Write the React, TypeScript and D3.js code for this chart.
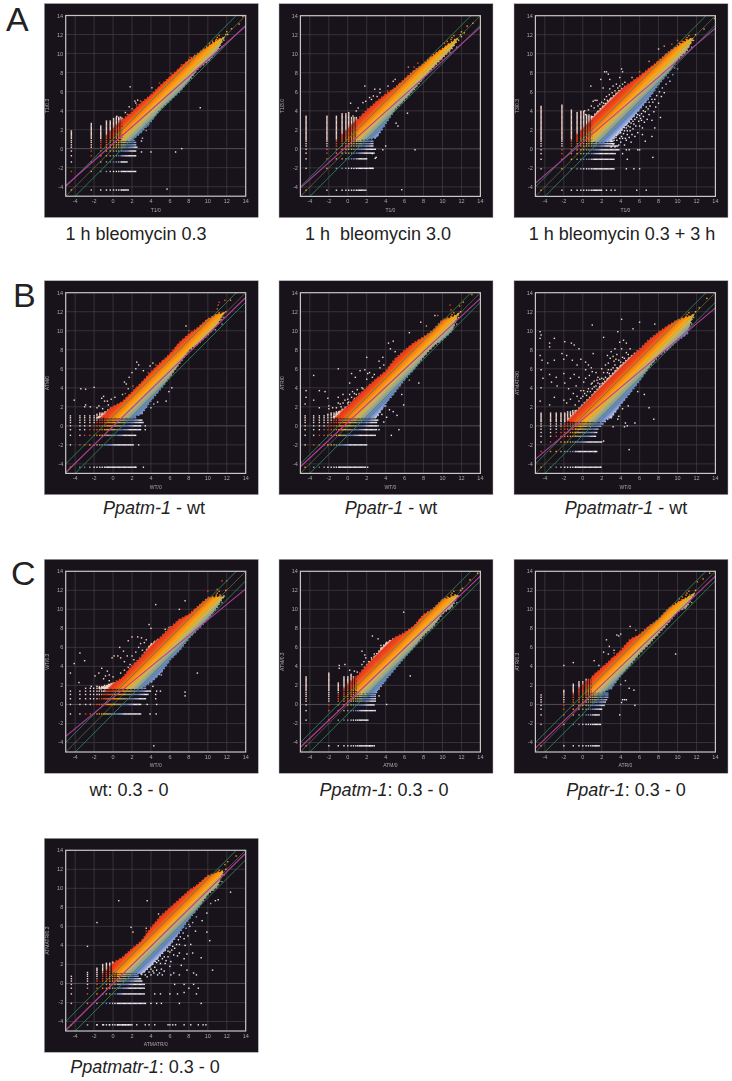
import React from 'react';
import * as d3 from 'd3';

// ---- shared values
const ticks = [-4, -2, 0, 2, 4, 6, 8, 10, 12, 14];
const fineLevels = [-2.3,-2.17,-2.04,-1.91,-1.78,-1.65,-1.52,-1.39,-1.26,-1.13,-1,-0.87,-0.74,-0.61,-0.48,-0.35,-0.22,-0.09,0.04,0.17,0.3,0.43,0.56,0.69,0.82,0.95,1.08,1.21,1.34,1.47,1.6,1.73,1.86,1.99,2.12,2.25,2.38,2.51,2.64,2.77,2.9,3.03,3.16,3.29,3.42,3.55,3.68,3.81,3.94,4.07,4.2,4.33,4.46,4.59,4.72,4.85];
const greenOffsets = [1, 0, -1];
const diffStops = [-2.25,-1.9,-1.35,-0.9,-0.55,-0.25,0,0.25,0.6,1.0,1.5,2.05,2.35];
const diffColors = ['#ecebf5','#9fb0dc','#5f7fbe','#8a98a0','#a5a882','#c8b25c','#eab52c','#f9a518','#ff8c10','#fb6c12','#f0461a','#dd3c1e','#f6d5cc'];
const xsR = [1,2,3,4,5,6,7,8,9,10,11,11.6];
const xsL = [-1.5,-1,0,1,2,3,4,5,6,7,8,9,10,11,11.6];
const xsM = [0,1,2,3,4,5,6,7,8,9,10,11,11.6];
const tipPts = [[10.2,11.1],[10.5,11.3],[10.7,10.6],[10.9,11.5],[11.1,10.9],[11.2,11.9],[11.4,11.2],[11.5,10.7],[11.7,11.4],[11.9,12],[10.4,10],[10.8,10.1],[11,11.7],[10.6,11],[11.3,11.5]];

// ---- cloud envelopes
const a1Hi = [3.0,3.8,4.8,5.6,6.6,7.5,8.4,9.3,10,10.7,11.4,11.6];
const a1Lo = [0.9,0.9,1.8,2.9,4.2,5.1,6,7.2,8.5,9.2,10.3,11.6];
const a2Hi = [3,4,4.9,5.7,6.4,7.3,8.2,8.9,9.8,10.5,11.2,11.6];
const a2Lo = [0.9,1,1.2,2.7,4.2,5.2,6.3,7.5,8.6,9.6,10.6,11.6];
const a3Hi = [3.3,4.3,5.3,6.2,6.9,7.6,8.4,9.2,10.1,10.8,11.4,11.6];
const a3Lo = [0.8,0.7,0.9,1.9,3,4.2,5.4,6.8,8,9.4,10.4,11.6];
const b1Hi = [0.9,1.3,2,2.5,3.5,4.5,5.6,6.6,7.5,8.7,9.6,10.3,11.2,11.7,11.8];
const b1Lo = [0.9,0.9,0.9,0.9,0.9,1.3,2.7,3.9,5.2,6.6,8,8.7,9.6,10.7,11.8];
const b2Hi = [0.9,1.4,2.1,3,4,4.9,5.7,7,7.9,8.7,9.3,10,11.1,11.4,11.7];
const b2Lo = [0.9,0.9,0.9,0.9,0.9,0.9,2.4,3.6,4.9,6,7.3,8.4,9.1,10,11.7];
const b3Hi = [0.7,1.2,2.2,3.2,4.3,5.3,6.3,7.2,8,9,9.8,10.5,11.1,11.4,11.6];
const b3Lo = [0.5,0.5,0.5,0.5,0.45,0.9,2.3,3.5,4.8,6.2,7.4,8.1,9,9.7,11.6];
const c1Hi = [1.7,1.8,2.2,2.75,4,5,6.3,7,8,8.9,9.4,10.3,11.2,11.3,11.3];
const c1Lo = [1.7,1.7,1.7,1.7,1.7,1.7,2.4,3.3,4.7,5.7,7,8,9,10.3,11.3];
const c2Hi = [2.9,4.1,5.2,6.4,7,7.5,8.2,9.4,10,11,11.3,11.5];
const c2Lo = [1.2,1.2,1.3,2.6,3.8,5,6.1,7.3,8.2,9.6,10.3,11.5];
const c3Hi = [2.9,3.8,4.7,5.6,6.8,7.3,8.2,8.9,10,10.7,11.2,11.5];
const c3Lo = [1.3,1.3,1.7,3.1,4.2,5.4,6.4,7.5,8.6,9.8,10.3,11.5];
const d1Hi = [2.1,2.7,3.6,4.4,5.8,7,7.9,8.8,9.7,10.4,11.3,11.6,11.8];
const d1Lo = [1.2,1.2,1.2,1,1.9,3,4.1,5.4,6.8,8,9.4,10.2,11.8];

// ---- magenta regression lines [y at x=-5, y at x=14]
const a1Mag = [-3.9, 12.9];
const a2Mag = [-4.1, 12.8];
const a3Mag = [-3.6, 12.7];
const b1Mag = [-4.9, 13.5];
const b2Mag = [-4.3, 13.4];
const b3Mag = [-3.5, 12.4];
const c1Mag = [-3.35, 12.15];
const c2Mag = [-4.5, 13.5];
const c3Mag = [-4.6, 13.5];
const d1Mag = [-4.9, 13.7];

// ---- discrete lattice columns and rows
const a1ColX = [-4.4,-2.3,-1.3,-0.7,-0.3,0.05,0.35,0.6,0.85];
const a1ColTop = [1.9,2.7,2.5,2.9,3,3.2,3.3,3.4,3.2];
const a1RowY = [-4.35,-2.4,-1.4,-0.75,-0.25,0.15,0.4,0.65,0.85];
const a1RowR = [1.6,2.5,1.5,2.4,2.5,2.6,2.5,2.4,2.3];
const a2ColX = [-4.4,-2.2,-1.2,-0.6,-0.2,0.1,0.4,0.65,0.9];
const a2ColTop = [3.5,3.5,3.5,3.7,3.7,3.9,3.4,3.4,3.3];
const a2RowY = [-4.35,-2.05,-1.05,-0.45,-0.05,0.3,0.55,0.8];
const a2RowR = [1.8,2.7,2.1,2.8,2.9,2.7,2.7,2.7];
const a3ColX = [-4.4,-2.2,-1.2,-0.6,-0.2,0.1,0.4,0.65,0.9];
const a3ColTop = [4.5,4.7,4.1,3.9,4,4,3.6,3.6,3.5];
const a3RowY = [-4.35,-2.1,-1.1,-0.5,-0.1,0.3,0.55,0.8];
const a3RowR = [2,3.3,3.4,3.5,3.9,3.7,3.3,3.2];
const b1ColX = [-4.5,-3.5,-3,-2.45,-2,-1.7,-1.4,-1.15,-0.9];
const b1ColTop = [1.05,1.05,1.05,1.05,1.2,1.3,1.4,1.4,1.4];
const b1RowY = [-4.35,-2,-1,-0.4,0,0.35,0.6,0.85,1.05];
const b1RowR = [2.4,2.2,2.5,3,3,3.2,3.1,2.5,2.3];
const b2ColX = [-4.5,-3.6,-3,-2.5,-2.1,-1.75,-1.45,-1.2,-0.95];
const b2ColTop = [1.05,1.05,1.05,1.05,1.3,1.4,1.4,1.5,1.5];
const b2RowY = [-4.35,-2,-1,-0.4,0,0.35,0.6,0.85,1.05];
const b2RowR = [1.9,2,2.9,3.1,3.1,3.1,3.2,2.8,2.6];
const b3ColX = [-4.4,-3.4,-2.8,-2.3,-1.9,-1.6,-1.3,-1.05,-0.8];
const b3ColTop = [1.4,1.4,1.4,1.4,1.4,1.5,1.5,1.6,1.6];
const b3RowY = [-4.35,-2.7,-1.7,-1.1,-0.7,-0.35,-0.05,0.2,0.45];
const b3RowR = [1.9,1.5,2,1.4,1.5,1.7,1.9,2.2,2.4];
const c1ColX = [-4.5,-3.5,-2.9,-2.4,-2.05,-1.7,-1.45,-1.2,-1];
const c1ColTop = [1.4,1.4,1.85,1.8,1.8,1.8,1.9,1.9,1.9];
const c1RowY = [-1,0,0.6,1.05,1.4,1.7];
const c1RowR = [2.9,3,3.5,3.7,4,3.5];
const c2ColX = [-4.4,-2,-1,-0.4,0,0.35,0.6,0.85,1.05];
const c2ColTop = [3,3.4,2.3,3,3,3.2,3,3,3];
const c2RowY = [-4.35,-1.65,-0.65,-0.05,0.35,0.6,0.85,1.05,1.25];
const c2RowR = [2.7,2.2,3,2.8,3,3,2.9,2.9,2.9];
const c3ColX = [-4.4,-2,-1,-0.4,0,0.35,0.6,0.85,1.05];
const c3ColTop = [1.1,1.5,2.2,2.5,2.5,2.7,2.7,2.7,2.7];
const c3RowY = [-4.35,-2.1,-1.1,-0.5,-0.1,0.25,0.5,0.75,1,1.2];
const c3RowR = [1.8,1.9,1.8,2.1,2.3,2.5,2.6,2.7,2.7,2.7];
const d1ColX = [-4.4,-2.7,-1.7,-1.1,-0.7,-0.35,-0.05,0.2,0.45];
const d1ColTop = [0.9,1.2,1.6,2.1,2.2,2.2,2.3,2.2,2.2];
const d1RowY = [-4.35,-2.1,-1.1,-0.5,-0.1,0.25,0.5,0.75,0.95,1.15];
const d1RowR = [2,3.5,3.4,3.4,3.4,3.1,2.9,2.7,2.6,2.5];

// ---- loose points [x, y]
const a1Pts = [[1.8,6.5],[4.1,6.4],[9.2,4.3],[7.25,0],[6.6,-0.35],[5.7,-4.25],[4,-0.35],[3,-0.35],[3,0.8],[3.1,1.1],[3.5,1.9],[2.3,5],[2.6,5.1],[2.9,5],[2.4,4.8],[1.7,4.4],[1.3,3.8],[0.8,3.3],[1,3.2],[0.6,3.1],[0.4,3.4],[2,4.2],[3,4.6],[2.5,4.6],[1.5,3.6],[12,12.3],[12.5,12.6],[13.3,13.1],[13.7,13.9],[12.1,12],[3.7,2.4],[4,3],[4.9,6.9],[6.1,7.9],[7.2,8.8],[8.1,9.6]];
const a2Pts = [[1.8,6.6],[0.3,4.8],[7.1,-0.1],[5.7,-4.3],[4,0.3],[3.7,-0.1],[6.3,3.75],[5.3,2.4],[5.1,2.7],[2.85,6.27],[4.25,6.6],[3.4,6.27],[2.3,5.4],[2.5,5.2],[2.7,5.56],[1.6,4.86],[1.1,4.3],[0.9,3.98],[0.55,3.45],[5,7.3],[4.8,7.1],[4.2,6.1],[6.4,8.6],[7.4,9],[7,8.6],[3.4,5.9],[1.9,5],[3.1,5.5],[12,12.3],[12.6,12.9],[13.2,13.2],[12,11.8],[12.3,12.2],[2.6,-0.5],[2.9,-1],[2.4,-2.05],[2.65,-2.05],[3,-0.9],[1.9,-4.35]];
const a3Pts = [[0.2,4],[0.3,3.6],[0.6,4.1],[0.9,4.5],[1.1,5],[1.3,5.1],[0.85,6.6],[2.5,8.1],[2.7,7.85],[2.3,8.1],[4.1,8.4],[4.2,8.1],[3.9,7.5],[2.85,7.3],[1.9,7.3],[2.15,6.4],[3.55,6.8],[4.45,7],[2.85,6.3],[3.2,6.6],[3.7,6.4],[2.5,5.5],[2.3,5.2],[2,4.9],[1.5,5.1],[1.2,4.3],[1.6,4.5],[2.8,5.7],[3.1,5.9],[3.4,6.1],[3.9,6.6],[4.2,6.8],[1.8,4.7],[2.2,4.8],[2.6,5.1],[5.2,7.5],[6,8.1],[7,9.2],[8,10.5],[8.6,10.8],[9.4,11],[10,11.4],[3,0.2],[3.2,0.5],[3.4,0.2],[3.6,0.9],[3.8,0.4],[4,0.7],[4.2,1.1],[4.4,0.4],[4.1,1.3],[4.5,1.1],[4.7,1.5],[4.6,0.9],[4.9,1.2],[5,1.9],[5.2,1.5],[5.3,2.1],[5.1,0.7],[5.5,1.3],[5.6,2.4],[5.4,2.6],[5.8,1.7],[5.9,2.9],[6,2.4],[6.1,3.2],[6.3,2.2],[6.4,3.4],[6.2,3.7],[6.5,2.8],[6.6,3.9],[6.8,3.1],[6.9,4.2],[7,3.6],[7.1,4.5],[7.3,3],[7.4,4.9],[7.5,3.9],[7.6,5.2],[7.7,4.4],[7.8,5.6],[8,4.8],[8.1,6],[8.3,5.5],[8.4,6.4],[8.6,5.9],[8.8,6.8],[9,7.5],[9.2,7.1],[9.5,7.8],[9.7,8.5],[10,8.4],[3.3,0.9],[3.5,1.2],[3.7,1.5],[3.9,1.1],[4,1.7],[4.3,1.6],[4.4,1.9],[4.6,2.2],[4.8,2.4],[4.7,1.9],[5,2.3],[5.1,2.7],[5.3,2.9],[5.5,3.1],[5.7,3.3],[5.8,3.6],[6,3.5],[6.2,3],[6.4,4],[6.7,4.4],[7,4.9],[7.3,5.2],[4.6,-0.1],[4.9,-0.1],[5.8,-0.1],[6,-0.1],[7.4,-0.9],[4.2,-0.5],[4.7,-1.1],[5.4,-2.1],[4.6,-2.1],[6,-2.1],[5.7,-4.35],[6.7,-4.35],[3.4,-4.35],[3,-4.35],[2.5,-4.35],[7.3,1.3],[6.6,0.8],[8.2,3.3],[6.3,1.5],[7.6,2.2],[12.8,12.6],[13.9,13.7]];
const b1Pts = [[-4.1,2.7],[-3.4,3.9],[-2.9,3.85],[-2,4.05],[-1,3.1],[-1.2,2.9],[-0.9,2.6],[-0.5,2.2],[-1.7,1.9],[-2.4,2],[-3,2],[-2.9,2.2],[-1.5,2.1],[-1.1,1.8],[-0.6,2.6],[-0.2,2.8],[0.2,3],[1,3.3],[1.3,3.4],[1.6,3.9],[1.4,4.4],[1.2,4.6],[1.7,5.1],[2,5.6],[2.4,6],[2.5,6.7],[2.7,6.4],[3.2,5.8],[3.9,6.3],[4.2,6.6],[3.7,5.6],[4.5,6.4],[2.1,4.2],[7.7,10.5],[8,10],[3,1.9],[3.4,2.2],[4,1.9],[4.3,2.3],[4.7,2.5],[5.6,2.6],[5.9,3.6],[6.2,4],[3.2,-4.35],[2.4,-4.35],[2.7,-2],[3.4,-0.4],[3.4,0],[11.2,13],[11.1,12.7],[11,12.3],[12.4,13.2],[13,14],[11.8,13.2]];
const b2Pts = [[-4.4,3.7],[-4.4,3],[-4.5,2.3],[-3.6,5.3],[-3.6,2.7],[-3,3.7],[-2.4,3.6],[-2,2.1],[-3,1.9],[-2,1.8],[-1.6,1.9],[-2.1,2.9],[-1,2.4],[-1.2,1.9],[-0.7,2],[-0.5,3.3],[-0.5,2.4],[-1,3],[0,2.8],[0,2.4],[0.2,3.3],[0.5,3.6],[0.7,2.9],[1,3.8],[1.2,3.4],[0.7,3.4],[1.5,4],[0.2,4.5],[0.4,5.5],[-1,6],[0.8,5.1],[1.3,5.8],[1.8,5.9],[2.1,5.5],[2.3,5.6],[2,4.9],[2.6,5.1],[2,7.2],[3.3,6.8],[3.7,7.2],[4.3,8.7],[4.5,8.1],[4.8,8.9],[5,7.8],[3.8,6.4],[3.4,6.1],[2.8,5.4],[6.5,9.8],[7.7,10.9],[8.3,10.5],[9.2,11.6],[9.5,11.6],[10.8,12.7],[13.1,13.8],[11.8,12.6],[12.2,13],[10.9,12.2],[3.6,1.2],[4.1,0.9],[4.4,1.7],[4.8,1.5],[5.2,1.1],[5.4,-0.4],[4.6,-1],[3.3,-0.4],[3.2,0],[3.8,0.4],[5.7,3.3],[5.9,2.2],[7.5,4.5],[6.5,4.8],[3.1,1.6],[2.1,-4.35],[3.4,1.5],[3.7,1.9],[4,2.1],[0.1,2.5],[0.4,3],[0.9,3.3],[1.1,3.1],[1.6,3.9],[-0.3,2.7],[-0.8,2.3]];
const b3Pts = [[-4.5,9.9],[-4.4,9.55],[-4.5,9.2],[-3,9.2],[-3.5,8.7],[-3.5,8.3],[-4.5,7.4],[-4.3,6.9],[-3,6.9],[-3.7,6.6],[-1.9,8.85],[-1.2,8.7],[-0.9,8.5],[-0.4,8.1],[-2.2,7.6],[-2,7],[-1.7,7.4],[-1.1,6.9],[-0.2,7],[-0.6,6.4],[0.3,6.7],[0.6,6.4],[0.9,6.1],[0.3,5.9],[1,5.7],[1.1,7.6],[1,10.6],[2.2,9.3],[3.7,9.9],[4.1,11.2],[5.3,10.2],[6,10.9],[7.6,10.7],[-4.4,5.9],[-4.2,5],[-4.4,4],[-3.3,4.6],[-3.5,5.4],[-2.8,5.1],[-2.7,4.2],[-2,5.5],[-1.9,4.5],[-1.3,5],[-1.5,3.9],[-0.9,5.4],[-0.7,4.2],[-0.4,5.1],[-0.2,3.7],[0.1,4.6],[0.3,5],[0.5,3.6],[0.7,5.3],[1,4.5],[1.2,4.1],[1.4,5.6],[1.6,5.1],[1.8,4.9],[2,6],[2.2,5.6],[2.4,6.4],[2.6,7.4],[2.7,6.6],[2.9,7.1],[3,7.8],[3.2,7.3],[3.4,8.1],[3.6,7.5],[3.9,8.8],[4.1,8.1],[4.3,9],[4.6,8.7],[-1.7,2.4],[-2,2.7],[-3,3],[-3.5,2.2],[-4.5,2.6],[-1,3.4],[-0.6,3.1],[-1.3,2.8],[-0.2,2.9],[0,3.1],[0.2,3.4],[0.4,3.2],[0.6,3.9],[0.8,3.6],[1,3.9],[1.2,4.7],[1.4,4.2],[1.6,4.5],[1.8,4.4],[2,5],[2.2,4.9],[2.4,5.1],[2.6,5.6],[2.8,5.5],[3,5.9],[3.2,6.1],[3.4,6.4],[3.6,6.1],[3.8,6.9],[4,6.7],[4.2,7.2],[4.4,7.1],[4.6,7.7],[4.8,7.5],[5,8.1],[2.1,4.5],[2.7,5.9],[3.3,6.8],[3.5,7],[1.5,4.8],[0.9,4.4],[0.1,3.7],[-0.4,2.6],[-0.8,2.2],[2.2,-1.6],[3.2,-0.1],[4.4,-0.1],[4.7,0],[4.5,0.3],[5.5,0.3],[7.5,0.7],[7,1.9],[6.5,3.3],[4.2,1.8],[4.8,2.1],[5.8,3.6],[3.7,0.7],[3.8,1],[1.9,-4.35],[1.3,-2.7],[4.9,-2.5],[12.3,12.4],[13.1,13.4]];
const c1Pts = [[4.5,10.5],[7.6,10.9],[7,10],[3.8,8.4],[4,8],[5.5,7.9],[6,8],[-4.1,4.3],[-4.5,3.3],[-3.6,2.3],[-3.5,5.4],[-3,4.6],[-2.3,1.9],[-1.9,3],[-1.2,3.8],[-1.5,3.3],[-1,2.7],[-0.8,3],[-0.6,3.5],[-0.4,3.1],[-0.4,2.5],[0,2.9],[-0.2,2.2],[-0.1,4.9],[0.1,5.1],[0.5,5.1],[0.7,6],[0.8,4.9],[1.1,5.6],[1.2,4.5],[1.5,5.1],[1.6,3.9],[1.5,3.4],[1.8,4.2],[1.2,3.6],[1.3,2.9],[0.8,3.3],[1,2.6],[2,7.1],[1.6,6.7],[2.6,7.1],[3,7],[3.3,6.5],[3.5,6.8],[3.8,6],[4,6.3],[2.9,6.4],[2.4,5.5],[2.7,6],[3.1,5.7],[2,5.1],[2.2,4.7],[-0.5,2.1],[-1.7,1.9],[-0.9,2],[5.9,8.1],[8.9,3.3],[7.6,1.3],[7.6,0.9],[5.1,3.1],[4.6,3.4],[4.1,2.4],[4.2,1.9],[5,1.4],[4.6,1.4],[4.5,1.05],[4.5,0.6],[4.6,0],[4.55,-1],[4.3,-4.35],[3.9,-1],[3.6,0],[11,12.1],[11.5,13],[12,13],[13,14],[10,11.9],[9.9,11],[9.4,10.6]];
const c2Pts = [[5.9,9.7],[2.6,7.2],[3.2,6.9],[3.5,5.9],[3.5,6.2],[1.5,5.6],[1.8,5.2],[1.9,4.9],[-0.9,4.1],[-0.9,3.8],[-0.3,4.2],[0.2,3.6],[0.7,3.5],[1,3.4],[1.5,4.2],[1.7,4.5],[2.2,4.5],[2.5,4.9],[2.8,5.3],[1.8,3.9],[2.3,-4.35],[2.8,-4.35],[4.1,0],[3.3,0.9],[6.6,3],[9,9.1],[12.1,12.2],[12.9,13.1],[13.7,13.8]];
const c3Pts = [[-2,4.1],[-1,4.4],[1.2,4.6],[1.7,4.1],[2.1,3.9],[2.2,3.5],[2.2,5.5],[2.5,6.8],[2.7,5.3],[2.8,6.1],[3.2,4.9],[3.6,7.3],[3.3,5.4],[3.3,5.7],[5,8.2],[5.6,7.8],[4,7.4],[3.8,7.2],[9.8,5.3],[4.2,0.5],[4.1,0.2],[4.4,0.5],[4.6,0.5],[3.9,-1.1],[5.5,-0.1],[4.5,2.5],[4.9,1.7],[5.4,1.5],[4,2.1],[12.1,12.9],[12.7,13.2],[13.4,13.8]];
const d1Pts = [[0.6,8.7],[3.6,8.7],[-1.7,6.4],[-2.7,3.9],[1.9,5.9],[2.1,5.4],[3.5,5.8],[3.5,5.5],[4.8,7.3],[9.2,9.5],[12.4,9.6],[11.1,8.8],[10.8,8.7],[10.3,8.4],[9.9,7.4],[9.4,6.6],[9.9,5.4],[10.2,4.5],[9.3,2.7],[10.5,1.4],[8.7,5.5],[8.4,6.4],[8.8,7],[8.1,6],[7.9,5],[8.2,4.1],[7.5,4.7],[7.8,3.1],[8.4,3.2],[7.5,2.6],[7,4.1],[6.7,5],[6.4,3],[6.8,2.9],[6.1,2.3],[5.8,3.4],[5.5,2.1],[5.1,1.5],[4.6,2.2],[4.9,1.1],[5.4,1.3],[6,1.8],[6.3,3.9],[7,3.2],[7.2,1.9],[7.8,1.4],[8.5,1.1],[6.4,1.1],[4.3,1.1],[8.8,0.9],[7,0.9],[6.1,0.9],[3.4,0.9],[3.6,0.7],[3.8,1.2],[4,1.5],[4.2,1.3],[4.4,1.7],[4.6,1.4],[4.8,2.4],[5,2.1],[5.2,2.6],[5.4,2.8],[5.6,2.4],[5.8,2.8],[6,3.3],[6.2,3.5],[6.5,3.7],[6.7,4.1],[6.9,4.6],[7.1,4.9],[7.4,5.3],[7.6,4],[7.7,5.8],[8,6.2],[4,0.9],[4.7,0.9],[5.2,0.9],[7.5,-0.1],[6.5,-0.1],[8.5,-0.1],[8,-0.5],[9,-0.5],[7.5,-0.95],[6.8,-1.1],[6,-1.1],[5,-1.1],[4.4,-1.1],[8.8,-1.1],[4,-2.1],[4.6,-2.1],[5.1,-2.1],[7,-2.1],[9.3,-2.1],[3.4,-4.35],[3.8,-4.35],[4.4,-4.35],[5.8,-4.35],[6,-4.35],[6.3,-4.35],[6.6,-4.35],[7.5,-4.35],[8.2,-4.35],[9,-4.35],[9.5,-4.35],[9.8,-4.35],[2.5,-4.35],[-2.7,-4.35],[-1.7,-4.35],[-1,-4.35],[-0.4,-4.35],[0.5,-4.35],[1,-4.35],[1.3,-4.35],[1.6,-4.35],[11.8,12.5],[12.1,12.8],[13,13.4]];

// ---- panel table
const panels = [
  { left: 44.3, top: 3.5, xLab: 'T1/0', yLab: 'T1/0.3', hiX: xsR, hi: a1Hi, lo: a1Lo, mag: a1Mag, colX: a1ColX, colTop: a1ColTop, rowY: a1RowY, rowR: a1RowR, pts: a1Pts },
  { left: 279, top: 3.7, xLab: 'T1/0', yLab: 'T1/3.0', hiX: xsR, hi: a2Hi, lo: a2Lo, mag: a2Mag, colX: a2ColX, colTop: a2ColTop, rowY: a2RowY, rowR: a2RowR, pts: a2Pts },
  { left: 514, top: 3.7, xLab: 'T1/0', yLab: 'T3/0.3', hiX: xsR, hi: a3Hi, lo: a3Lo, mag: a3Mag, colX: a3ColX, colTop: a3ColTop, rowY: a3RowY, rowR: a3RowR, pts: a3Pts },
  { left: 44.3, top: 280.7, xLab: 'WT/0', yLab: 'ATM/0', hiX: xsL, hi: b1Hi, lo: b1Lo, mag: b1Mag, colX: b1ColX, colTop: b1ColTop, rowY: b1RowY, rowR: b1RowR, pts: b1Pts },
  { left: 279, top: 280.7, xLab: 'WT/0', yLab: 'ATR/0', hiX: xsL, hi: b2Hi, lo: b2Lo, mag: b2Mag, colX: b2ColX, colTop: b2ColTop, rowY: b2RowY, rowR: b2RowR, pts: b2Pts },
  { left: 514, top: 280.7, xLab: 'WT/0', yLab: 'ATMATR/0', hiX: xsL, hi: b3Hi, lo: b3Lo, mag: b3Mag, colX: b3ColX, colTop: b3ColTop, rowY: b3RowY, rowR: b3RowR, pts: b3Pts },
  { left: 44.3, top: 559.3, xLab: 'WT/0', yLab: 'WT/0.3', hiX: xsL, hi: c1Hi, lo: c1Lo, mag: c1Mag, colX: c1ColX, colTop: c1ColTop, rowY: c1RowY, rowR: c1RowR, pts: c1Pts },
  { left: 279, top: 559.3, xLab: 'ATM/0', yLab: 'ATM/0.3', hiX: xsR, hi: c2Hi, lo: c2Lo, mag: c2Mag, colX: c2ColX, colTop: c2ColTop, rowY: c2RowY, rowR: c2RowR, pts: c2Pts },
  { left: 514, top: 559.3, xLab: 'ATR/0', yLab: 'ATR/0.3', hiX: xsR, hi: c3Hi, lo: c3Lo, mag: c3Mag, colX: c3ColX, colTop: c3ColTop, rowY: c3RowY, rowR: c3RowR, pts: c3Pts },
  { left: 44.3, top: 838.3, xLab: 'ATMATR/0', yLab: 'ATMATR/0.3', hiX: xsM, hi: d1Hi, lo: d1Lo, mag: d1Mag, colX: d1ColX, colTop: d1ColTop, rowY: d1RowY, rowR: d1RowR, pts: d1Pts },
];

const letters = [['A', 6, 31], ['B', 13, 307], ['C', 11, 585]];
const captions = [
  { x: 136, y: 240, parts: [['1 h bleomycin 0.3', false]] },
  { x: 378, y: 240, parts: [['1 h  bleomycin 3.0', false]] },
  { x: 622, y: 240, parts: [['1 h bleomycin 0.3 + 3 h', false]] },
  { x: 154, y: 514, parts: [['Ppatm-1', true], [' - wt', false]] },
  { x: 391, y: 514, parts: [['Ppatr-1', true], [' - wt', false]] },
  { x: 626, y: 514, parts: [['Ppatmatr-1', true], [' - wt', false]] },
  { x: 129, y: 796, parts: [['wt: 0.3 - 0', false]] },
  { x: 384, y: 796, parts: [['Ppatm-1', true], [': 0.3 - 0', false]] },
  { x: 626, y: 796, parts: [['Ppatr-1', true], [': 0.3 - 0', false]] },
  { x: 145, y: 1073, parts: [['Ppatmatr-1', true], [': 0.3 - 0', false]] },
];

const panelW = 214;
const panelH = 214;
const frame = { l: 21.4, r: 201.4, t: 12, b: 192.7 };
const domain: [number, number] = [-5, 14];
const dMin = diffStops[0];
const dMax = diffStops[diffStops.length - 1];
const diffColor = d3.scaleLinear<string>().domain(diffStops).range(diffColors).clamp(true);

function Panel({ p, i }: any) {
  const sx = d3.scaleLinear().domain(domain).range([frame.l, frame.r]);
  const sy = d3.scaleLinear().domain(domain).range([frame.b, frame.t]);
  const area = d3.area<number>().x((x) => sx(x)).y0((_, k) => sy(p.lo[k])).y1((_, k) => sy(p.hi[k]));
  const topRow = p.rowY[p.rowY.length - 1];
  const lastCol = p.colX[p.colX.length - 1];
  const yLevels = [...p.rowY, ...fineLevels.filter((v) => v > topRow + 0.1)];
  const xLevels = fineLevels.filter((v) => v > lastCol + 0.05);
  const dots: number[][] = [];
  p.colX.forEach((x: number, k: number) => {
    yLevels.filter((y) => y <= p.colTop[k]).forEach((y) => dots.push([x, y]));
  });
  p.rowY.forEach((y: number, j: number) => {
    xLevels.filter((x) => x <= p.rowR[j]).forEach((x) => dots.push([x, y]));
  });
  const all = [...dots, ...p.pts, ...tipPts];
  const gradId = `diff-${i}`;
  const clipId = `clip-${i}`;
  const cloud = area(p.hiX) || '';
  return (
    <g transform={`translate(${p.left},${p.top})`}>
      <defs>
        <linearGradient id={gradId} gradientUnits="userSpaceOnUse" x1={sx(5 - dMin / 2)} y1={sy(5 + dMin / 2)} x2={sx(5 - dMax / 2)} y2={sy(5 + dMax / 2)}>
          {diffStops.map((d, k) => (
            <stop key={k} offset={(d - dMin) / (dMax - dMin)} stopColor={diffColors[k]} />
          ))}
        </linearGradient>
        <clipPath id={clipId}>
          <rect x={frame.l} y={frame.t} width={frame.r - frame.l} height={frame.b - frame.t} />
        </clipPath>
      </defs>
      <rect x={0} y={0} width={panelW} height={panelH} fill="#18131b" stroke="#b5b3b6" strokeWidth={0.5} />
      <g filter="url(#soft)">
        {ticks.slice(0, -1).map((t) => (
          <g key={t}>
            <line x1={sx(t)} x2={sx(t)} y1={frame.t} y2={frame.b} stroke="#484448" strokeWidth={0.6} />
            <line x1={frame.l} x2={frame.r} y1={sy(t)} y2={sy(t)} stroke={t === 0 ? '#77737a' : '#484448'} strokeWidth={0.6} />
          </g>
        ))}
        <g clipPath={`url(#${clipId})`}>
          <path d={cloud} fill={`url(#${gradId})`} />
          <path d={cloud} fill="none" stroke={`url(#${gradId})`} strokeWidth={2.4} strokeDasharray="1.3 2.4" />
          <path d={cloud} fill="none" stroke={`url(#${gradId})`} strokeWidth={1.1} strokeDasharray="1.6 1.1" />
          {all.map(([x, y]: number[], k: number) => (
            <rect key={k} x={sx(x) - 0.7} y={sy(y) - 0.7} width={1.4} height={1.4} fill={diffColor(y - x)} />
          ))}
          {greenOffsets.map((o) => (
            <line key={o} x1={sx(-5)} y1={sy(-5 + o)} x2={sx(14)} y2={sy(14 + o)} stroke={o === 0 ? '#86a060' : '#2f8f5f'} strokeOpacity={o === 0 ? 0.6 : 1} strokeWidth={0.8} />
          ))}
          <line x1={sx(-5)} y1={sy(p.mag[0])} x2={sx(14)} y2={sy(p.mag[1])} stroke="#b53c9c" strokeWidth={1.1} />
        </g>
        <rect x={frame.l} y={frame.t} width={frame.r - frame.l} height={frame.b - frame.t} fill="none" stroke="#c9c6c6" strokeWidth={1.2} />
        {ticks.map((t) => (
          <text key={`x${t}`} x={sx(t)} y={frame.b + 7} textAnchor="middle" fontSize={5.5} fill="#a9a7a9" fontFamily="Liberation Sans">{t}</text>
        ))}
        {ticks.map((t) => (
          <text key={`y${t}`} x={frame.l - 2.5} y={sy(t) + 2} textAnchor="end" fontSize={5.5} fill="#a9a7a9" fontFamily="Liberation Sans">{t}</text>
        ))}
        <text x={(frame.l + frame.r) / 2} y={frame.b + 15.5} textAnchor="middle" fontSize={5} fill="#a9a7a9" fontFamily="Liberation Sans">{p.xLab}</text>
        <text transform={`translate(${frame.l - 16.5},${(frame.t + frame.b) / 2}) rotate(-90)`} textAnchor="middle" fontSize={5} fill="#a9a7a9" fontFamily="Liberation Sans">{p.yLab}</text>
      </g>
    </g>
  );
}

export default function App() {
  return (
    <svg width={732} height={1081} style={{ position: 'absolute', left: 0, top: 0, background: '#fff' }}>
      <defs>
        <filter id="soft" x="-5%" y="-5%" width="110%" height="110%">
          <feGaussianBlur stdDeviation={0.35} />
        </filter>
      </defs>
      {letters.map(([t, x, y]) => (
        <text key={t as string} x={x as number} y={y as number} fontSize={34} fill="#222" fontFamily="Liberation Sans">{t}</text>
      ))}
      {panels.map((p, i) => (
        <Panel key={i} p={p} i={i} />
      ))}
      {captions.map((c, i) => (
        <text key={i} x={c.x} y={c.y} textAnchor="middle" fontSize={18} fill="#222" fontFamily="Liberation Sans" style={{ whiteSpace: 'pre' }}>
          {c.parts.map(([s, it], k) => (
            <tspan key={k} fontStyle={it ? 'italic' : 'normal'}>{s as string}</tspan>
          ))}
        </text>
      ))}
    </svg>
  );
}
